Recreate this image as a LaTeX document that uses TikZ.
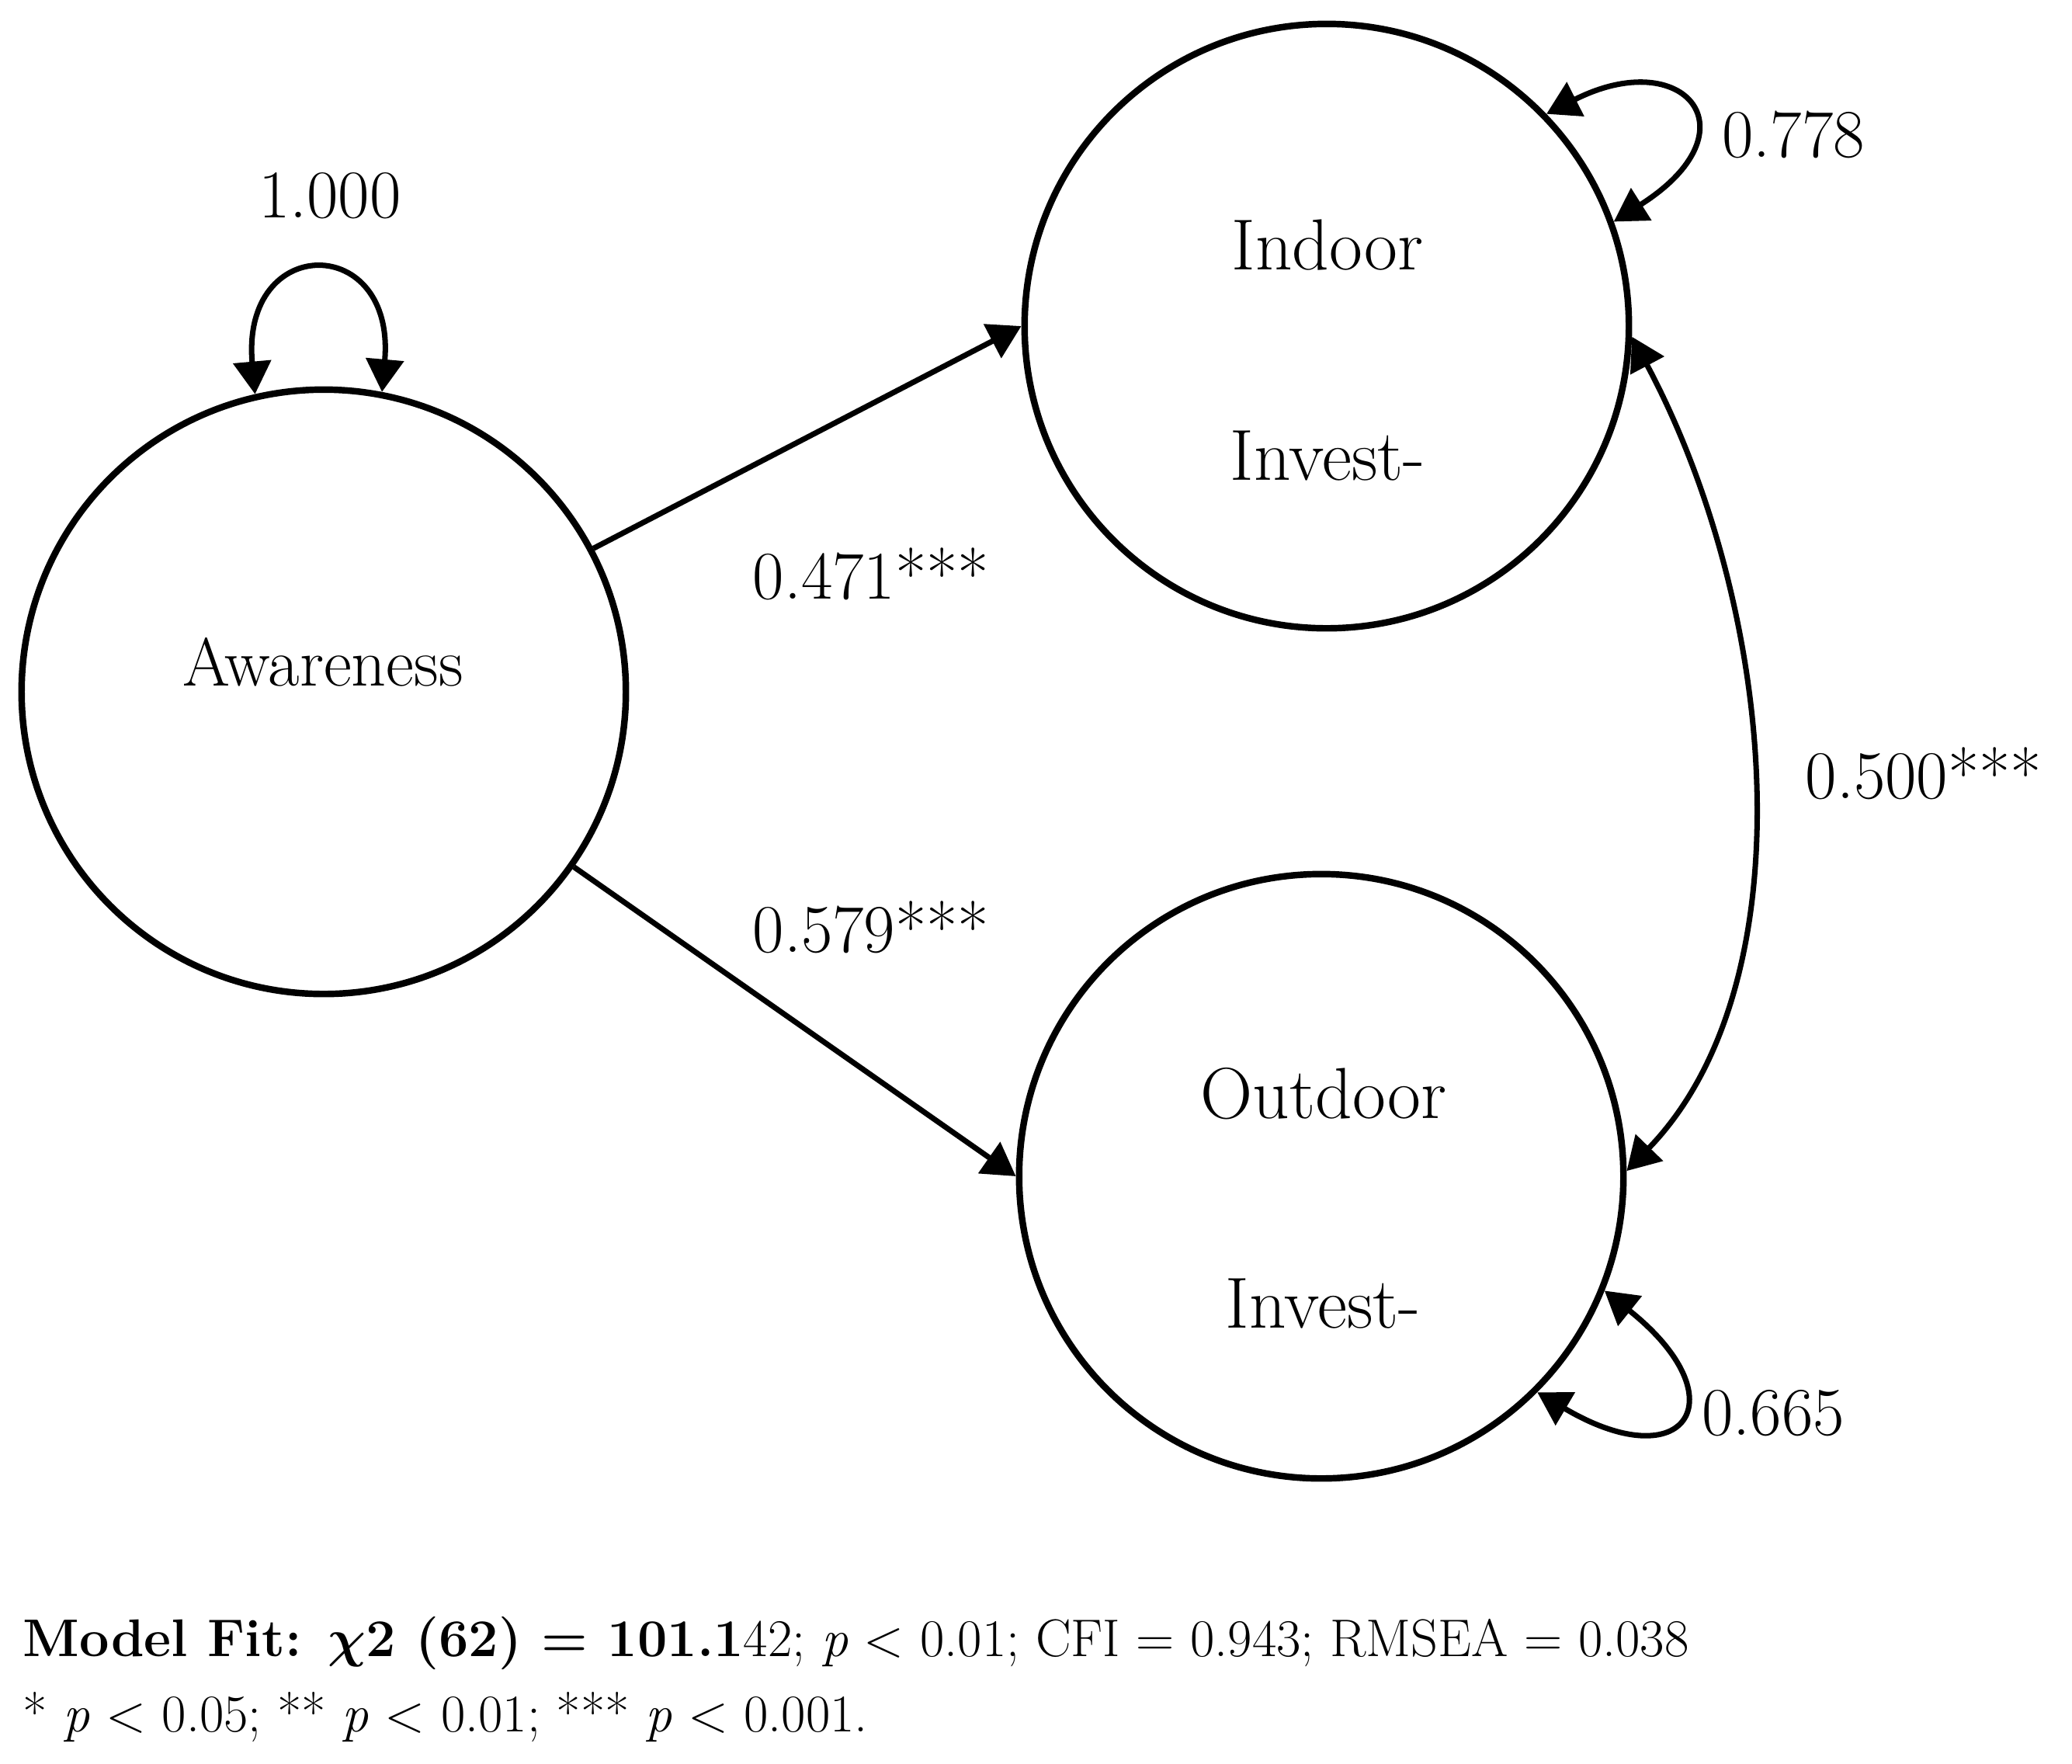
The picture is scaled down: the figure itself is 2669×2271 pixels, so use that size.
\documentclass[tikz,border=0pt]{standalone}
\usepackage{fix-cm}
\usetikzlibrary{arrows.meta,calc}
\begin{document}
\begin{tikzpicture}[x=0.01cm,y=-0.01cm,
  lv/.style={circle,draw,line width=2.4pt,minimum size=7.78cm,inner sep=0pt},
  lbl/.style={font=\fontsize{25}{30}\selectfont,inner sep=0pt,anchor=base},
  inlbl/.style={lbl,font=\fontsize{26.5}{31}\selectfont},
  regpath/.style={line width=2pt,-{Triangle[length=0.42cm,width=0.48cm]}},
  dblpath/.style={line width=2pt,{Triangle[length=0.42cm,width=0.48cm]}-{Triangle[length=0.42cm,width=0.48cm]}},
  note/.style={anchor=base west,inner sep=0pt,font=\fontsize{19.4}{23}\selectfont}
]
\useasboundingbox (0,0) rectangle (2669,2271);

% latent variables
\node[lv] (aw) at (417,891) {};
\node[lv] (ind) at (1709,420) {};
\node[lv] (out) at (1702,1515) {};

% texts in circles
\node[lbl] (tAw) at (416,883) {Awareness};
\node[inlbl] (tInd1) at (1710,347) {Indoor};
\node[inlbl] (tInd2) at (1710,618) {Invest-};
\node[inlbl] (tOut1) at (1705,1440) {Outdoor};
\node[inlbl] (tOut2) at (1704,1710) {Invest-};

% coefficient labels
\node[lbl] (v1) at (425,280) {1.000};
\node[lbl] (v2) at (2310,202) {0.778};
\node[lbl] (v3) at (2284,1848) {0.665};
\node[lbl] (p1) at (1122,771) {0.471***};
\node[lbl] (p2) at (1122,1226) {0.579***};
\node[lbl] (c1) at (2478,1028) {0.500***};

% regressions
\draw[regpath] (aw.28) -- (ind.west);
\draw[regpath] (aw.-35) -- (out.west);

% covariance
\draw[dblpath] (ind.-2) .. controls (2290,786) and (2330,1266) .. (out.1);

% variances
\draw[dblpath] (aw.103) .. controls (310,300) and (510,300) .. (aw.79);
\draw[dblpath] (ind.44) .. controls (2169,57) and (2264,168) .. (ind.20);
\draw[dblpath] (out.-22) .. controls (2242,1802) and (2171,1906) .. (out.-45);

% notes
\node[note] (fit) at (29,2133) {\textbf{Model Fit: {\boldmath$\chi$}2 (62) = 101.1}42; \textit{p} < 0.01; CFI = 0.943; RMSEA = 0.038};
\node[note] (sig) at (29,2230) {* \textit{p} < 0.05; ** \textit{p} < 0.01; *** \textit{p} < 0.001.};
\end{tikzpicture}
\end{document}
